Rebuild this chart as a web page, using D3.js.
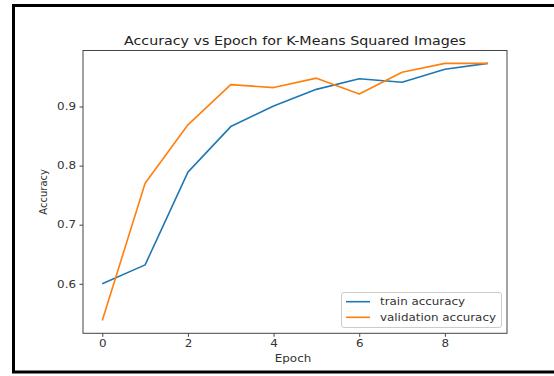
<!DOCTYPE html>
<html><head><meta charset="utf-8">
<script src="https://cdn.jsdelivr.net/npm/d3@7"></script>
<style>body{margin:0;background:#fff;}svg{display:block;font-family:"DejaVu Sans",sans-serif;}</style>
</head><body><svg id="c" width="554" height="376"></svg>
<script>
const epochs = [0,1,2,3,4,5,6,7,8,9];
const trainAcc = [0.600,0.632,0.789,0.866,0.901,0.929,0.947,0.941,0.963,0.973];
const valAcc = [0.538,0.770,0.869,0.937,0.932,0.948,0.921,0.958,0.973,0.973];
const xTicks = [0,2,4,6,8];
const yTicks = [0.6,0.7,0.8,0.9];
const seriesNames = ["train accuracy","validation accuracy"];
const colors = ["#1f77b4","#ff7f0e"];
const SX = 1.19;

const svg = d3.select("#c");
svg.append("rect").attr("x",13.5).attr("y",5.5).attr("width",570).attr("height",366.5)
  .attr("fill","none").attr("stroke","#000").attr("stroke-width",3);

const L=83,R=507,T=50.5,B=333.3;
const x = d3.scaleLinear().domain([-0.45,9.45]).range([L,R]);
const allV = trainAcc.concat(valAcc);
const mn=d3.min(allV), mx=d3.max(allV), pad=(mx-mn)*0.05;
const y = d3.scaleLinear().domain([mn-pad,mx+pad]).range([B,T]);

const line = d3.line().x((d,i)=>x(epochs[i])).y(d=>y(d));
[trainAcc,valAcc].forEach((s,k)=>{
  svg.append("path").datum(s).attr("d",line).attr("fill","none")
    .attr("stroke",colors[k]).attr("stroke-width",1.6).attr("stroke-linejoin","round");
});

function stretch(sel){
  sel.each(function(){
    const t=d3.select(this);
    const ax=+(t.attr("x")||0);
    t.attr("transform",`translate(${ax},0) scale(${SX},1) translate(${-ax},0)`);
  });
}

const xa = svg.append("g").attr("transform",`translate(0,${B})`)
  .call(d3.axisBottom(x).tickValues(xTicks).tickSize(3.5).tickPadding(3.5).tickFormat(d3.format("d")));
const ya = svg.append("g").attr("transform",`translate(${L},0)`)
  .call(d3.axisLeft(y).tickValues(yTicks).tickSize(3.5).tickPadding(3.5).tickFormat(d3.format(".1f")));
[xa,ya].forEach(a=>{
  a.select(".domain").remove();
  a.selectAll("line").attr("stroke","#444");
  a.selectAll("text").attr("font-size",10).attr("fill","#333").attr("font-family","DejaVu Sans").call(stretch);
});
svg.append("rect").attr("x",L).attr("y",T).attr("width",R-L).attr("height",B-T)
  .attr("fill","none").attr("stroke","#444").attr("stroke-width",1);

svg.append("text").attr("x",(L+R)/2).attr("y",45.5).attr("text-anchor","middle")
  .attr("font-size",12).attr("fill","#222").text("Accuracy vs Epoch for K-Means Squared Images").call(stretch);
svg.append("text").attr("x",(L+R)/2-2).attr("y",362).attr("text-anchor","middle")
  .attr("font-size",10).attr("fill","#333").text("Epoch").call(stretch);
svg.append("text").attr("transform",`translate(47,${(T+B)/2}) rotate(-90)`).attr("text-anchor","middle")
  .attr("font-size",10).attr("fill","#333").text("Accuracy");

const lg = svg.append("g");
lg.append("rect").attr("x",341.5).attr("y",292.5).attr("width",160).attr("height",35).attr("rx",2.5)
  .attr("fill","#fff").attr("fill-opacity",0.8).attr("stroke","#ccc");
seriesNames.forEach((n,k)=>{
  const yy = 301.7 + k*15.6;
  lg.append("line").attr("x1",346).attr("x2",370).attr("y1",yy).attr("y2",yy)
    .attr("stroke",colors[k]).attr("stroke-width",1.6);
  lg.append("text").attr("x",380).attr("y",yy+3.6).attr("font-size",10).attr("fill","#333").text(n).call(stretch);
});
</script></body></html>
